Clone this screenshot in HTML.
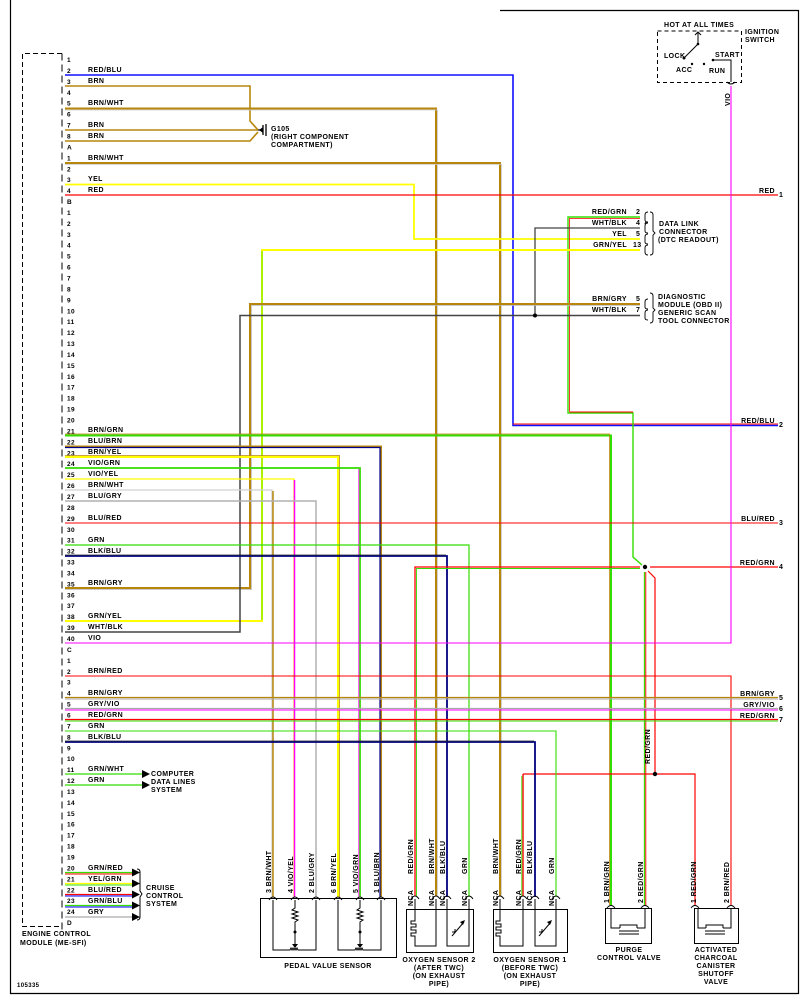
<!DOCTYPE html>
<html><head><meta charset="utf-8"><style>
html,body{margin:0;padding:0;background:#fff;}
svg{display:block;}
text{font-family:"Liberation Sans",sans-serif;font-size:7px;font-weight:bold;fill:#000;letter-spacing:0.4px;}
</style></head><body>
<svg width="808" height="1004" viewBox="0 0 808 1004" xmlns="http://www.w3.org/2000/svg">
<defs>
<pattern id="br" patternUnits="userSpaceOnUse" x="0" y="58.5" width="10" height="10.925">
<path d="M62,0.5 Q66.5,3.5 62,7" fill="none" stroke="#000" stroke-width="1"/>
</pattern>
</defs>
<rect x="0" y="0" width="808" height="1004" fill="#fff"/>
<!-- frame -->
<path d="M10.5,0 V993.5 H798.5 V10.5 H500" fill="none" stroke="#000" stroke-width="1.2"/>

<!-- ECM box -->
<path d="M62,53.5 H22.5 V926.5 H62" fill="none" stroke="#000" stroke-width="1" stroke-dasharray="5,3"/>
<rect x="60" y="58" width="8" height="872" fill="url(#br)"/>
<path d="M62,53.5 V931" fill="none" stroke="#000" stroke-width="1" stroke-dasharray="7,4"/>
<text x="22" y="936">ENGINE CONTROL</text>
<text x="20" y="945">MODULE (ME-SFI)</text>
<text x="17" y="987" style="font-size:6px">105335</text>

<!-- pin numbers -->
<text x="67" y="62" style="font-size:6.5px"><tspan x="67" dy="0">1</tspan><tspan x="67" dy="10.925">2</tspan><tspan x="67" dy="10.925">3</tspan><tspan x="67" dy="10.925">4</tspan><tspan x="67" dy="10.925">5</tspan><tspan x="67" dy="10.925">6</tspan><tspan x="67" dy="10.925">7</tspan><tspan x="67" dy="10.925">8</tspan><tspan x="67" dy="10.925">A</tspan><tspan x="67" dy="10.925">1</tspan><tspan x="67" dy="10.925">2</tspan><tspan x="67" dy="10.925">3</tspan><tspan x="67" dy="10.925">4</tspan><tspan x="67" dy="10.925">B</tspan><tspan x="67" dy="10.925">1</tspan><tspan x="67" dy="10.925">2</tspan><tspan x="67" dy="10.925">3</tspan><tspan x="67" dy="10.925">4</tspan><tspan x="67" dy="10.925">5</tspan><tspan x="67" dy="10.925">6</tspan><tspan x="67" dy="10.925">7</tspan><tspan x="67" dy="10.925">8</tspan><tspan x="67" dy="10.925">9</tspan><tspan x="67" dy="10.925">10</tspan><tspan x="67" dy="10.925">11</tspan><tspan x="67" dy="10.925">12</tspan><tspan x="67" dy="10.925">13</tspan><tspan x="67" dy="10.925">14</tspan><tspan x="67" dy="10.925">15</tspan><tspan x="67" dy="10.925">16</tspan><tspan x="67" dy="10.925">17</tspan><tspan x="67" dy="10.925">18</tspan><tspan x="67" dy="10.925">19</tspan><tspan x="67" dy="10.925">20</tspan><tspan x="67" dy="10.925">21</tspan><tspan x="67" dy="10.925">22</tspan><tspan x="67" dy="10.925">23</tspan><tspan x="67" dy="10.925">24</tspan><tspan x="67" dy="10.925">25</tspan><tspan x="67" dy="10.925">26</tspan><tspan x="67" dy="10.925">27</tspan><tspan x="67" dy="10.925">28</tspan><tspan x="67" dy="10.925">29</tspan><tspan x="67" dy="10.925">30</tspan><tspan x="67" dy="10.925">31</tspan><tspan x="67" dy="10.925">32</tspan><tspan x="67" dy="10.925">33</tspan><tspan x="67" dy="10.925">34</tspan><tspan x="67" dy="10.925">35</tspan><tspan x="67" dy="10.925">36</tspan><tspan x="67" dy="10.925">37</tspan><tspan x="67" dy="10.925">38</tspan><tspan x="67" dy="10.925">39</tspan><tspan x="67" dy="10.925">40</tspan><tspan x="67" dy="10.925">C</tspan><tspan x="67" dy="10.925">1</tspan><tspan x="67" dy="10.925">2</tspan><tspan x="67" dy="10.925">3</tspan><tspan x="67" dy="10.925">4</tspan><tspan x="67" dy="10.925">5</tspan><tspan x="67" dy="10.925">6</tspan><tspan x="67" dy="10.925">7</tspan><tspan x="67" dy="10.925">8</tspan><tspan x="67" dy="10.925">9</tspan><tspan x="67" dy="10.925">10</tspan><tspan x="67" dy="10.925">11</tspan><tspan x="67" dy="10.925">12</tspan><tspan x="67" dy="10.925">13</tspan><tspan x="67" dy="10.925">14</tspan><tspan x="67" dy="10.925">15</tspan><tspan x="67" dy="10.925">16</tspan><tspan x="67" dy="10.925">17</tspan><tspan x="67" dy="10.925">18</tspan><tspan x="67" dy="10.925">19</tspan><tspan x="67" dy="10.925">20</tspan><tspan x="67" dy="10.925">21</tspan><tspan x="67" dy="10.925">22</tspan><tspan x="67" dy="10.925">23</tspan><tspan x="67" dy="10.925">24</tspan><tspan x="67" dy="10.925">D</tspan></text>

<!-- left wire labels -->
<g>
<text x="88" y="72">RED/BLU</text><text x="88" y="83">BRN</text><text x="88" y="105">BRN/WHT</text>
<text x="88" y="127">BRN</text><text x="88" y="138">BRN</text><text x="88" y="160">BRN/WHT</text>
<text x="88" y="181">YEL</text><text x="88" y="192">RED</text>
<text x="88" y="432">BRN/GRN</text><text x="88" y="443">BLU/BRN</text><text x="88" y="454">BRN/YEL</text>
<text x="88" y="465">VIO/GRN</text><text x="88" y="476">VIO/YEL</text><text x="88" y="487">BRN/WHT</text>
<text x="88" y="498">BLU/GRY</text><text x="88" y="520">BLU/RED</text><text x="88" y="542">GRN</text>
<text x="88" y="553">BLK/BLU</text><text x="88" y="585">BRN/GRY</text><text x="88" y="618">GRN/YEL</text>
<text x="88" y="629">WHT/BLK</text><text x="88" y="640">VIO</text>
<text x="88" y="673">BRN/RED</text><text x="88" y="695">BRN/GRY</text><text x="88" y="706">GRY/VIO</text>
<text x="88" y="717">RED/GRN</text><text x="88" y="728">GRN</text><text x="88" y="739">BLK/BLU</text>
<text x="88" y="771">GRN/WHT</text><text x="88" y="782">GRN</text>
<text x="88" y="870">GRN/RED</text><text x="88" y="881">YEL/GRN</text><text x="88" y="892">BLU/RED</text>
<text x="88" y="903">GRN/BLU</text><text x="88" y="914">GRY</text>
</g>

<!-- WIRES -->
<g fill="none" stroke-width="1.6" stroke-linejoin="miter">
<!-- A2 RED/BLU -->
<path d="M65,75 H513 V425.5 H778" stroke="#1010ff"/>
<path d="M513,424 H778" stroke="#ff0000" stroke-width="1"/>
<!-- ground wires -->
<path d="M65,86 H250 V121 L258,130" stroke="#b8860b"/>
<path d="M65,130 H258" stroke="#b8860b"/>
<path d="M65,141 H250 L258,132" stroke="#b8860b"/>
<!-- A5 BRN/WHT -->
<path d="M65,108.5 H436 V896" stroke="#b8860b" stroke-width="2"/>
<path d="M65,110 H437.5 V896" stroke="#c8c8c8" stroke-width="0.8"/>
<!-- B1 BRN/WHT -->
<path d="M65,163 H500 V896" stroke="#b8860b" stroke-width="2"/>
<path d="M65,164.5 H501.5 V896" stroke="#c8c8c8" stroke-width="0.8"/>
<!-- B3 YEL -->
<path d="M65,184.5 H414 V239 H640" stroke="#ffff00" stroke-width="1.8"/>
<!-- B4 RED -->
<path d="M65,195 H778" stroke="#ff0000" stroke-width="1.2"/>
<!-- DLC RED/GRN -->
<path d="M640,217 H568 V413 H633 V557 L642,565" stroke="#33dd00" stroke-width="1.4"/>
<path d="M640,218.5 H569.5 V411.5" stroke="#ff0000" stroke-width="0.8"/>
<path d="M569.5,412 H633" stroke="#ff0000" stroke-width="1"/>
<!-- DLC WHT/BLK -->
<path d="M640,228 H535 V315" stroke="#444" stroke-width="1.3"/>
<!-- GRN/YEL -->
<path d="M640,250 H262 V621 H65" stroke="#ffff00" stroke-width="2"/>
<path d="M262,251 V620" stroke="#33dd00" stroke-width="0.8"/>
<!-- BRN/GRY -->
<path d="M640,304 H250 V588 H65" stroke="#b8860b" stroke-width="2"/>
<path d="M640,305.5 H251.5 V589.5 H65" stroke="#bbb" stroke-width="0.8"/>
<!-- WHT/BLK -->
<path d="M640,315.5 H240 V632 H65" stroke="#444" stroke-width="1.5"/>
<!-- C21 BRN/GRN -->
<path d="M65,435.5 H611 V905" stroke="#33dd00" stroke-width="2"/>
<path d="M65,434 H609.5 V905" stroke="#b8860b" stroke-width="0.8"/>
<!-- C22 BLU/BRN -->
<path d="M65,446.5 H381 V897" stroke="#b8860b" stroke-width="2"/>
<path d="M65,447.5 H380 V897" stroke="#00008b" stroke-width="1.2"/>
<!-- C23 BRN/YEL -->
<path d="M65,457 H338 V897" stroke="#ffff00" stroke-width="2"/>
<path d="M65,455.5 H339.5 V897" stroke="#b8860b" stroke-width="0.8"/>
<!-- C24 VIO/GRN -->
<path d="M65,468 H360 V897" stroke="#33dd00" stroke-width="1.8"/>
<path d="M358.8,469 V897" stroke="#ff00ff" stroke-width="0.8"/>
<!-- C25 VIO/YEL -->
<path d="M65,479 H294 V897" stroke="#ffff00" stroke-width="1.3"/>
<path d="M294.5,480 V897" stroke="#ff00ff" stroke-width="1.5"/>
<!-- C26 BRN/WHT -->
<path d="M65,490 H272 V897" stroke="#d0d0d0" stroke-width="1.3"/>
<path d="M273,491 V897" stroke="#b8860b" stroke-width="1.5"/>
<!-- C27 BLU/GRY -->
<path d="M65,501 H316 V897" stroke="#b0b0b0" stroke-width="1.5"/>
<!-- C29 BLU/RED -->
<path d="M65,523 H778" stroke="#ff0000" stroke-width="1"/>
<!-- C31 GRN -->
<path d="M65,545 H469 V897" stroke="#33dd00" stroke-width="1.2"/>
<!-- C32 BLK/BLU -->
<path d="M65,556 H447 V897" stroke="#000080" stroke-width="1.8"/>
<path d="M65,555 H446" stroke="#222" stroke-width="0.8"/>
<!-- RED/GRN 4 -->
<path d="M778,567 H650" stroke="#ff0000" stroke-width="1.3"/>
<path d="M640,567 H415 V896" stroke="#ff0000" stroke-width="1.3"/>
<path d="M640,568.5 H416.5 V896" stroke="#33dd00" stroke-width="0.9"/>
<path d="M644.5,572 V905" stroke="#33dd00" stroke-width="1.3"/>
<path d="M645.8,572 V905" stroke="#ff0000" stroke-width="0.9"/>
<path d="M648,571 L655,578 V774" stroke="#ff0000" stroke-width="1.2"/>
<path d="M523,774 H695 V905" stroke="#ff0000" stroke-width="1.2"/>
<path d="M523,774 V896" stroke="#ff0000" stroke-width="1.4"/>
<path d="M521.8,776 V896" stroke="#33dd00" stroke-width="0.9"/>
<!-- C40 VIO -->
<path d="M65,643 H731 V86" stroke="#ff00ff" stroke-width="1.1"/>
<!-- D2 BRN/RED -->
<path d="M65,676 H731 V905" stroke="#ff0000" stroke-width="1.1"/>
<!-- D4-D6 -->
<path d="M65,697.5 H778" stroke="#b8860b" stroke-width="1.2"/><path d="M65,699 H778" stroke="#aaa" stroke-width="1"/>
<path d="M65,708.5 H778" stroke="#aaa" stroke-width="1.2"/><path d="M65,710 H778" stroke="#ff00ff" stroke-width="1"/>
<path d="M65,719.5 H778" stroke="#ff0000" stroke-width="1.2"/><path d="M65,721 H778" stroke="#33dd00" stroke-width="1"/>
<!-- D7 GRN -->
<path d="M65,731 H556 V897" stroke="#33dd00" stroke-width="1.1"/>
<!-- D8 BLK/BLU -->
<path d="M65,742 H535 V897" stroke="#000080" stroke-width="1.8"/>
<path d="M65,741 H534" stroke="#222" stroke-width="0.8"/>
<!-- D11, D12 -->
<path d="M65,774 H143" stroke="#33dd00" stroke-width="1.2"/>
<path d="M65,785 H143" stroke="#33dd00" stroke-width="1.2"/>
<!-- cruise -->
<path d="M65,872.5 H133" stroke="#33dd00" stroke-width="1.2"/><path d="M65,874 H133" stroke="#ff0000" stroke-width="1"/>
<path d="M65,883.5 H133" stroke="#ffff00" stroke-width="1.2"/><path d="M65,885 H133" stroke="#33dd00" stroke-width="1"/>
<path d="M65,894.5 H133" stroke="#ff0000" stroke-width="1.2"/><path d="M65,896 H133" stroke="#0000ff" stroke-width="1"/>
<path d="M65,905.5 H133" stroke="#33dd00" stroke-width="1.2"/><path d="M65,907 H133" stroke="#0000ff" stroke-width="1"/>
<path d="M65,917 H133" stroke="#aaa" stroke-width="1.3"/>
</g>

<!-- splices -->
<circle cx="535" cy="315.5" r="2" fill="#000"/>
<circle cx="645" cy="567" r="2.2" fill="#000"/>
<circle cx="655" cy="774" r="2.2" fill="#000"/>

<!-- ground G105 -->
<path d="M258,130 H262 M263,125 V135 M266,124 V136" stroke="#000" stroke-width="1.3" fill="none"/>
<path d="M259,130 L263,127 V133 Z" fill="#000"/>
<text x="271" y="131">G105</text>
<text x="271" y="139">(RIGHT COMPONENT</text>
<text x="271" y="147">COMPARTMENT)</text>

<!-- arrows -->
<g fill="#000">
<path d="M142,770 L150,774 L142,778Z"/><path d="M142,781 L150,785 L142,789Z"/>
<path d="M132,868.5 L140,872.5 L132,876.5Z"/><path d="M132,879.5 L140,883.5 L132,887.5Z"/>
<path d="M132,890.5 L140,894.5 L132,898.5Z"/><path d="M132,901.5 L140,905.5 L132,909.5Z"/>
<path d="M132,913 L140,917 L132,921Z"/>
</g>
<path d="M137,869 Q140,869 140,872 V891 L142,894 L140,897 V917 Q140,920 137,920" fill="none" stroke="#000" stroke-width="1"/>
<text x="151" y="776">COMPUTER</text><text x="151" y="784">DATA LINES</text><text x="151" y="792">SYSTEM</text>
<text x="146" y="890">CRUISE</text><text x="146" y="898">CONTROL</text><text x="146" y="906">SYSTEM</text>

<!-- right side labels -->
<g text-anchor="end">
<text x="775" y="193">RED</text><text x="775" y="423">RED/BLU</text><text x="775" y="521">BLU/RED</text>
<text x="775" y="565">RED/GRN</text><text x="775" y="696">BRN/GRY</text><text x="775" y="707">GRY/VIO</text><text x="775" y="718">RED/GRN</text>
</g>
<text x="779" y="197">1</text><text x="779" y="427">2</text><text x="779" y="525">3</text><text x="779" y="569">4</text>
<text x="779" y="700">5</text><text x="779" y="711">6</text><text x="779" y="722">7</text>

<!-- DLC -->
<g text-anchor="end">
<text x="627" y="214">RED/GRN</text><text x="627" y="225">WHT/BLK</text><text x="627" y="236">YEL</text><text x="627" y="247">GRN/YEL</text>
<text x="627" y="301">BRN/GRY</text><text x="627" y="312">WHT/BLK</text>
</g>
<text x="636" y="214">2</text><text x="636" y="225">4</text><text x="636" y="236">5</text><text x="633" y="247">13</text>
<text x="636" y="301">5</text><text x="636" y="312">7</text>
<g fill="none" stroke="#000" stroke-width="0.9">
<path d="M648,212 Q645,212 645,215 V220 Q645,222 648,222 M645,224 Q645,222 648,222"/>
<path d="M648,223 Q645,223 645,226 V231 Q645,233 648,233"/>
<path d="M648,234 Q645,234 645,237 V242 Q645,244 648,244"/>
<path d="M648,245 Q645,245 645,248 V252 Q645,255 648,255"/>
<path d="M650,212 Q653,212 653,215 V231 L655,233 L653,235 V252 Q653,255 650,255"/>
<path d="M648,299 Q645,299 645,302 V307 Q645,309 648,309"/>
<path d="M648,310 Q645,310 645,313 V318 Q645,320 648,320"/>
<path d="M650,293 Q653,293 653,296 V308 L655,310 L653,312 V320 Q653,323 650,323"/>
</g>
<text x="659" y="226">DATA LINK</text><text x="659" y="234">CONNECTOR</text><text x="658" y="242">(DTC READOUT)</text>
<text x="658" y="299">DIAGNOSTIC</text><text x="658" y="307">MODULE (OBD II)</text><text x="658" y="315">GENERIC SCAN</text><text x="658" y="323">TOOL CONNECTOR</text>

<!-- ignition switch -->
<path d="M657.5,31 H741.5 V82.5 H657.5 Z" fill="none" stroke="#000" stroke-width="1" stroke-dasharray="4,3"/>
<rect x="688" y="22" width="24" height="6" fill="#fff"/>
<text x="664" y="27">HOT AT ALL TIMES</text>
<text x="745" y="34">IGNITION</text><text x="745" y="42">SWITCH</text>
<g stroke="#000" stroke-width="1" fill="none">
<path d="M698,33 V44 L684,58"/>
<path d="M695,35 L698,32 L701,35"/>
<path d="M713,60 H731 V82"/>
<path d="M727,82 Q731,86 735,82"/>
</g>
<circle cx="698" cy="44" r="1.3"/><circle cx="684" cy="58" r="1.5"/><circle cx="692" cy="64" r="1.2"/><circle cx="704" cy="64" r="1.2"/><circle cx="713" cy="60" r="1.3"/>
<text x="664" y="58">LOCK</text><text x="676" y="72">ACC</text><text x="709" y="73">RUN</text><text x="715" y="57">START</text>
<text transform="translate(730,106) rotate(-90)">VIO</text>

<!-- component pin connectors -->
<g fill="none" stroke="#000" stroke-width="0.9">
<path d="M269,900 Q273,894 277,900 M291,900 Q295,894 299,900 M312,900 Q316,894 320,900 M334,900 Q338,894 342,900 M356,900 Q360,894 364,900 M377,900 Q381,894 385,900"/>
<path d="M411,899 Q415,893 419,899 M432,899 Q436,893 440,899 M443,899 Q447,893 451,899 M465,899 Q469,893 473,899"/>
<path d="M496,899 Q500,893 504,899 M519,899 Q523,893 527,899 M531,899 Q535,893 539,899 M552,899 Q556,893 560,899"/>
<path d="M607,908 Q611,903 615,908 M641,908 Q645,903 649,908"/>
<path d="M691,908 Q695,903 699,908 M727,908 Q731,903 735,908"/>
</g>

<!-- pedal sensor -->
<rect x="260.5" y="898.5" width="136" height="59" fill="none" stroke="#000" stroke-width="1"/>
<g fill="none" stroke="#000" stroke-width="1">
<path d="M273,900 V950 H290 l1,-2 1,2 1,-2 1,2 1,-2 1,2 1,-2 1,2 H316 V900"/>
<path d="M295,900 V908 l-3,2 6,2 -6,2 6,2 -6,2 6,2 -3,2 V945"/>
<path d="M338,900 V950 H355 l1,-2 1,2 1,-2 1,2 1,-2 1,2 1,-2 1,2 H381 V900"/>
<path d="M360,900 V908 l-3,2 6,2 -6,2 6,2 -6,2 6,2 -3,2 V945"/>
</g>
<circle cx="295" cy="932" r="1.5"/><circle cx="360" cy="932" r="1.5"/>
<path d="M292,944 L298,944 L295,948Z M357,944 L363,944 L360,948Z"/>
<text x="328" y="968" text-anchor="middle">PEDAL VALUE SENSOR</text>

<!-- O2 sensor 2 -->
<rect x="406.5" y="909.5" width="67" height="43" fill="none" stroke="#000" stroke-width="1"/>
<g fill="none" stroke="#000" stroke-width="1">
<path d="M415,899 V921 H411 V924 H416 V927 H411 V930 H416 V933 H411 V936 H415 V946 H436 V899"/>
<path d="M447,899 V946 H469 V899"/>
<path d="M452,936 L464,922 M455,929 V932 H452"/>
</g>
<path d="M460,922 L465,920 L463,925Z"/>
<text x="439" y="962" text-anchor="middle">OXYGEN SENSOR 2</text><text x="439" y="970" text-anchor="middle">(AFTER TWC)</text>
<text x="439" y="978" text-anchor="middle">(ON EXHAUST</text><text x="439" y="986" text-anchor="middle">PIPE)</text>

<!-- O2 sensor 1 -->
<rect x="493.5" y="909.5" width="74" height="43" fill="none" stroke="#000" stroke-width="1"/>
<g fill="none" stroke="#000" stroke-width="1">
<path d="M500,899 V921 H496 V924 H501 V927 H496 V930 H501 V933 H496 V936 H500 V946 H523 V899"/>
<path d="M535,899 V946 H556 V899"/>
<path d="M539,936 L551,922 M542,929 V932 H539"/>
</g>
<path d="M547,922 L552,920 L550,925Z"/>
<text x="530" y="962" text-anchor="middle">OXYGEN SENSOR 1</text><text x="530" y="970" text-anchor="middle">(BEFORE TWC)</text>
<text x="530" y="978" text-anchor="middle">(ON EXHAUST</text><text x="530" y="986" text-anchor="middle">PIPE)</text>

<!-- purge valve -->
<rect x="605.5" y="908.5" width="46" height="35" fill="none" stroke="#000" stroke-width="1"/>
<g fill="none" stroke="#000" stroke-width="1">
<path d="M611,908 V928 H620 M637,928 H645 V908 M620,928 V925 H637 V928 M619,931 H639 M619,934 H639"/>
</g>
<text x="629" y="952" text-anchor="middle">PURGE</text><text x="629" y="960" text-anchor="middle">CONTROL VALVE</text>

<!-- charcoal valve -->
<rect x="694.5" y="908.5" width="44" height="35" fill="none" stroke="#000" stroke-width="1"/>
<g fill="none" stroke="#000" stroke-width="1">
<path d="M698,908 V928 H706 M723,928 H731 V908 M706,928 V925 H723 V928 M705,931 H725 M705,934 H725"/>
</g>
<text x="716" y="952" text-anchor="middle">ACTIVATED</text><text x="716" y="960" text-anchor="middle">CHARCOAL</text>
<text x="716" y="968" text-anchor="middle">CANISTER</text><text x="716" y="976" text-anchor="middle">SHUTOFF</text><text x="716" y="984" text-anchor="middle">VALVE</text>

<!-- rotated pin labels -->
<g>
<text transform="translate(271,893) rotate(-90)">3 BRN/WHT</text>
<text transform="translate(293,893) rotate(-90)">4 VIO/YEL</text>
<text transform="translate(314,893) rotate(-90)">2 BLU/GRY</text>
<text transform="translate(336,893) rotate(-90)">6 BRN/YEL</text>
<text transform="translate(358,893) rotate(-90)">5 VIO/GRN</text>
<text transform="translate(379,893) rotate(-90)">1 BLU/BRN</text>
<text transform="translate(413,874) rotate(-90)">RED/GRN</text>
<text transform="translate(434,874) rotate(-90)">BRN/WHT</text>
<text transform="translate(445,874) rotate(-90)">BLK/BLU</text>
<text transform="translate(467,874) rotate(-90)">GRN</text>
<text transform="translate(498,874) rotate(-90)">BRN/WHT</text>
<text transform="translate(521,874) rotate(-90)">RED/GRN</text>
<text transform="translate(532,874) rotate(-90)">BLK/BLU</text>
<text transform="translate(554,874) rotate(-90)">GRN</text>
<text transform="translate(413,906) rotate(-90)">NCA</text>
<text transform="translate(434,906) rotate(-90)">NCA</text>
<text transform="translate(445,906) rotate(-90)">NCA</text>
<text transform="translate(467,906) rotate(-90)">NCA</text>
<text transform="translate(498,906) rotate(-90)">NCA</text>
<text transform="translate(521,906) rotate(-90)">NCA</text>
<text transform="translate(532,906) rotate(-90)">NCA</text>
<text transform="translate(554,906) rotate(-90)">NCA</text>
<text transform="translate(609,903) rotate(-90)">1 BRN/GRN</text>
<text transform="translate(643,903) rotate(-90)">2 RED/GRN</text>
<text transform="translate(650,764) rotate(-90)">RED/GRN</text>
<text transform="translate(696,903) rotate(-90)">1 RED/GRN</text>
<text transform="translate(729,903) rotate(-90)">2 BRN/RED</text>
</g>
</svg>
</body></html>
